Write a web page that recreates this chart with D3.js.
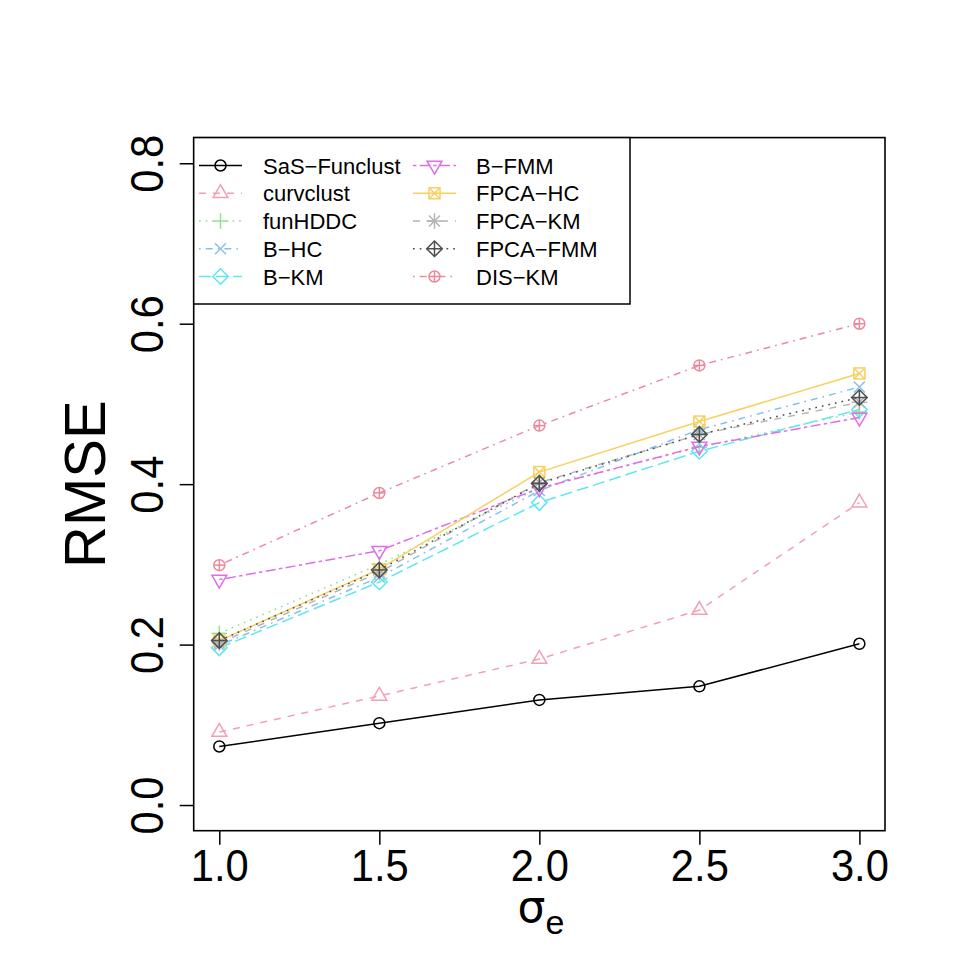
<!DOCTYPE html>
<html>
<head>
<meta charset="utf-8">
<script src="https://cdn.jsdelivr.net/npm/d3@7"></script>
<style>
  body { margin: 0; background: #fff; }
  text { font-family: "Liberation Sans", Arial, sans-serif; }
</style>
</head>
<body>
<svg id="chart"></svg>
<script>
// Data
const sigmaValues = [1.0, 1.5, 2.0, 2.5, 3.0];
const methodNames = ["SaS\u2212Funclust", "curvclust", "funHDDC", "B\u2212HC", "B\u2212KM",
                     "B\u2212FMM", "FPCA\u2212HC", "FPCA\u2212KM", "FPCA\u2212FMM", "DIS\u2212KM"];
const sasFunclust = [0.073, 0.102, 0.131, 0.148, 0.201];
const curvclust   = [0.091, 0.136, 0.182, 0.243, 0.377];
const funHDDC     = [0.214, 0.300, 0.395, 0.446, 0.490];
const bHC         = [0.199, 0.284, 0.392, 0.468, 0.521];
const bKM         = [0.196, 0.278, 0.377, 0.441, 0.493];
const bFMM        = [0.281, 0.317, 0.395, 0.447, 0.483];
const fpcaHC      = [0.205, 0.294, 0.415, 0.478, 0.538];
const fpcaKM      = [0.202, 0.290, 0.402, 0.462, 0.502];
const fpcaFMM     = [0.205, 0.293, 0.401, 0.462, 0.508];
const disKM       = [0.299, 0.389, 0.473, 0.548, 0.600];
const seriesValues = [sasFunclust, curvclust, funHDDC, bHC, bKM, bFMM, fpcaHC, fpcaKM, fpcaFMM, disKM];
const xTicks = [1.0, 1.5, 2.0, 2.5, 3.0];
const yTicks = [0.0, 0.2, 0.4, 0.6, 0.8];

// Styles (R-like col / lty / pch)
const colors = ["#000000", "#F2A0B2", "#94E094", "#82C2F0", "#5EE6F2",
                "#E06CE8", "#F6D060", "#B4B4B4", "#505050", "#EC8A9C"];
const u = 1.7;
const dashes = {
  solid: null,
  dashed: [7, 7],
  dotted: [u, 5],
  dotdash: [u, 5, 7, 5],
  longdash: [12, 5],
  twodash: [3.4, 3.4, 10, 3.4]
};
const ltys = ["solid", "dashed", "dotted", "dotdash", "longdash",
              "twodash", "solid", "dashed", "dotted", "dotdash"];
const pchs = [1, 2, 3, 4, 5, 6, 7, 8, 9, 10];

const W = 969, H = 969;
const svg = d3.select("#chart").attr("width", W).attr("height", H);

const plot = { left: 193.7, right: 885, top: 137.6, bottom: 830.7 };
const x = d3.scaleLinear().domain([0.92, 3.08]).range([plot.left, plot.right]);
const y = d3.scaleLinear().domain([-0.032, 0.832]).range([plot.bottom, plot.top]);

// Draw an R plotting symbol
const R = 5.5;
function drawPch(g, pch, color) {
  const s2 = Math.SQRT2 * R;
  const line = (x1, y1, x2, y2) => g.append("line")
    .attr("x1", x1).attr("y1", y1).attr("x2", x2).attr("y2", y2);
  const poly = pts => g.append("polygon").attr("points", pts.map(p => p.join(",")).join(" "));
  if (pch === 1) g.append("circle").attr("r", R);
  if (pch === 2) poly([[0, -1.555 * R], [1.347 * R, 0.778 * R], [-1.347 * R, 0.778 * R]]);
  if (pch === 6) poly([[0, 1.555 * R], [1.347 * R, -0.778 * R], [-1.347 * R, -0.778 * R]]);
  if (pch === 3) { line(-s2, 0, s2, 0); line(0, -s2, 0, s2); }
  if (pch === 4) { line(-R, -R, R, R); line(-R, R, R, -R); }
  if (pch === 5) poly([[0, -s2], [s2, 0], [0, s2], [-s2, 0]]);
  if (pch === 7) {
    g.append("rect").attr("x", -R).attr("y", -R).attr("width", 2 * R).attr("height", 2 * R);
    line(-R, -R, R, R); line(-R, R, R, -R);
  }
  if (pch === 8) {
    line(-R, -R, R, R); line(-R, R, R, -R);
    line(-s2, 0, s2, 0); line(0, -s2, 0, s2);
  }
  if (pch === 9) {
    poly([[0, -s2], [s2, 0], [0, s2], [-s2, 0]]);
    line(-s2, 0, s2, 0); line(0, -s2, 0, s2);
  }
  if (pch === 10) {
    g.append("circle").attr("r", R);
    line(-R, 0, R, 0); line(0, -R, 0, R);
  }
  g.selectAll("*").attr("fill", "none").attr("stroke", color).attr("stroke-width", 1.5);
}

// Series lines and points
const lineGen = d3.line().x((d, i) => x(sigmaValues[i])).y(d => y(d));
seriesValues.forEach((vals, k) => {
  svg.append("path")
    .datum(vals)
    .attr("d", lineGen)
    .attr("fill", "none")
    .attr("stroke", colors[k])
    .attr("stroke-width", 1.5)
    .attr("stroke-dasharray", dashes[ltys[k]] ? dashes[ltys[k]].join(",") : null);
  vals.forEach((v, i) => {
    const g = svg.append("g").attr("transform", `translate(${x(sigmaValues[i])},${y(v)})`);
    drawPch(g, pchs[k], colors[k]);
  });
});

// Axes
const xAxis = svg.append("g").attr("transform", `translate(0,${plot.bottom})`)
  .call(d3.axisBottom(x).tickValues(xTicks).tickFormat(d3.format(".1f")).tickSize(14).tickPadding(4));
xAxis.select(".domain").remove();
xAxis.selectAll(".tick line").attr("stroke", "#000").attr("stroke-width", 1.5);
xAxis.selectAll(".tick text")
  .attr("y", 0).attr("dy", null)
  .attr("transform", "translate(0,50)")
  .attr("fill", "#000")
  .style("font-size", "45px")
  .attr("textLength", 58).attr("lengthAdjust", "spacingAndGlyphs");

const yAxis = svg.append("g").attr("transform", `translate(${plot.left},0)`)
  .call(d3.axisLeft(y).tickValues(yTicks).tickFormat(d3.format(".1f")).tickSize(14));
yAxis.select(".domain").remove();
yAxis.selectAll(".tick line").attr("stroke", "#000").attr("stroke-width", 1.5);
yAxis.selectAll(".tick text")
  .attr("x", 0).attr("dy", null)
  .attr("transform", "translate(-31,0) rotate(-90)")
  .attr("text-anchor", "middle")
  .attr("fill", "#000")
  .style("font-size", "46px")
  .attr("textLength", 58).attr("lengthAdjust", "spacingAndGlyphs");

// Plot box
svg.append("rect")
  .attr("x", plot.left).attr("y", plot.top)
  .attr("width", plot.right - plot.left).attr("height", plot.bottom - plot.top)
  .attr("fill", "none").attr("stroke", "#000").attr("stroke-width", 1.6);

// Axis labels
svg.append("text")
  .attr("transform", `translate(105,${(plot.top + plot.bottom) / 2}) rotate(-90)`)
  .attr("text-anchor", "middle")
  .style("font-size", "58px")
  .text("RMSE");

const xl = svg.append("text")
  .attr("x", 541).attr("y", 922)
  .attr("text-anchor", "middle");
xl.append("tspan").style("font-family", "'DejaVu Sans', sans-serif").style("font-size", "44px").text("\u03C3");
xl.append("tspan").attr("dy", 12).style("font-size", "34px").text("e");

// Legend
const legend = svg.append("g");
legend.append("rect")
  .attr("x", plot.left).attr("y", plot.top)
  .attr("width", 630 - plot.left).attr("height", 304 - plot.top)
  .attr("fill", "#fff").attr("stroke", "#000").attr("stroke-width", 1.5);

const rowY = d3.scaleLinear().domain([0, 4]).range([165.5, 276.5]);
methodNames.forEach((name, k) => {
  const col = Math.floor(k / 5), row = k % 5;
  const x0 = col === 0 ? 199 : 413;
  const cy = rowY(row);
  legend.append("line")
    .attr("x1", x0).attr("x2", x0 + 43).attr("y1", cy).attr("y2", cy)
    .attr("stroke", colors[k]).attr("stroke-width", 1.5)
    .attr("stroke-dasharray", dashes[ltys[k]] ? dashes[ltys[k]].join(",") : null);
  const g = legend.append("g").attr("transform", `translate(${x0 + 21.5},${cy})`);
  drawPch(g, pchs[k], colors[k]);
  legend.append("text")
    .attr("x", col === 0 ? 263 : 476).attr("y", cy + 8)
    .style("font-size", "22px")
    .text(name);
});
</script>
</body>
</html>
